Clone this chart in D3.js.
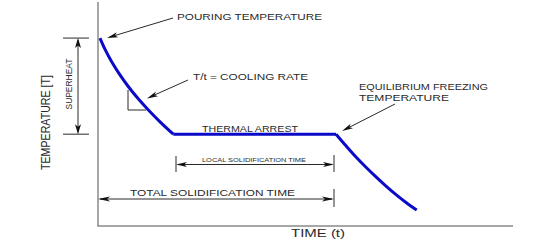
<!DOCTYPE html>
<html>
<head>
<meta charset="utf-8">
<script src="https://cdn.jsdelivr.net/npm/d3@7"></script>
<style>
  body { margin: 0; background: #fff; }
  svg { display: block; }
</style>
</head>
<body>
<svg id="chart" width="535" height="247"></svg>
<script>
// cooling curve, time / temperature in arbitrary units (0-100)
const liquidTime = [0.48, 1.76, 3.33, 5.13, 7.20, 9.54, 12.14, 15.01, 18.14];
const liquidTemp = [83.9, 78.6, 73.2, 67.9, 62.5, 57.1, 51.8, 46.4, 41.0];
const arrestTime = [18.14, 57.35];
const arrestTemp = [41.0, 41.0];
const solidTime = [57.35, 59.76, 62.17, 64.58, 66.99, 69.40, 71.81, 74.22, 76.80];
const solidTemp = [41.0, 35.8, 30.8, 26.2, 21.9, 17.8, 14.0, 10.5, 7.1];

const svg = d3.select("#chart");
const x = d3.scaleLinear().domain([0, 100]).range([98, 513]);
const y = d3.scaleLinear().domain([0, 100]).range([226, 2]);

const ink = "#2a2a2a";
const font = "'Liberation Sans', Arial, sans-serif";

// axes (plain lines, no ticks)
svg.append("line").attr("x1", x(0)).attr("x2", x(0)).attr("y1", y(100)).attr("y2", y(0))
  .attr("stroke", "#8a8a8a").attr("stroke-width", 1.5);
svg.append("line").attr("x1", x(0) - 0.75).attr("x2", x(100)).attr("y1", y(0)).attr("y2", y(0))
  .attr("stroke", "#8a8a8a").attr("stroke-width", 1.5);

// curve
const smooth = d3.line().x(d => x(d[0])).y(d => y(d[1])).curve(d3.curveCatmullRom.alpha(0.5));
const segs = [
  [liquidTime, liquidTemp],
  [arrestTime, arrestTemp],
  [solidTime, solidTemp]
];
segs.forEach(([ts, vs]) => {
  svg.append("path")
    .attr("d", smooth(d3.zip(ts, vs)))
    .attr("fill", "none")
    .attr("stroke", "#0a0ac8")
    .attr("stroke-width", 3)
    .attr("stroke-linejoin", "round");
});

// helpers
function seg(x1, y1, x2, y2, w) {
  svg.append("line").attr("x1", x1).attr("y1", y1).attr("x2", x2).attr("y2", y2)
    .attr("stroke", ink).attr("stroke-width", w || 1);
}
// filled narrow arrowhead, tip at (tx,ty), pointing away from (fx,fy)
function head(tx, ty, fx, fy, len, half) {
  len = len || 10; half = half || 2.6;
  const a = Math.atan2(ty - fy, tx - fx);
  const bx = tx - len * Math.cos(a), by = ty - len * Math.sin(a);
  const nx = -Math.sin(a) * half, ny = Math.cos(a) * half;
  const mx = tx - len * 0.75 * Math.cos(a), my = ty - len * 0.75 * Math.sin(a);
  svg.append("path")
    .attr("d", `M${tx},${ty}L${bx + nx},${by + ny}L${mx},${my}L${bx - nx},${by - ny}Z`)
    .attr("fill", "#111");
}
function label(txt, tx, ty, size, len) {
  return svg.append("text").attr("x", tx).attr("y", ty)
    .attr("font-family", font).attr("font-size", size).attr("fill", ink)
    .attr("textLength", len).attr("lengthAdjust", "spacingAndGlyphs")
    .text(txt);
}

const plateauY = y(arrestTemp[0]);
const startY = y(liquidTemp[0]);

// superheat dimension
seg(63, startY, 89, startY);
seg(63, plateauY, 89, plateauY);
seg(78, startY + 2, 78, plateauY - 2);
head(78, startY, 78, plateauY, 10, 3);
head(78, plateauY, 78, startY, 10, 3);
svg.append("text")
  .attr("transform", "translate(72,84) rotate(-90)")
  .attr("text-anchor", "middle")
  .attr("font-family", "'Liberation Sans Narrow', 'Liberation Sans', sans-serif")
  .attr("font-size", 9).attr("fill", ink)
  .attr("textLength", 51).attr("lengthAdjust", "spacingAndGlyphs")
  .text("SUPERHEAT");

// y label
svg.append("text")
  .attr("transform", "translate(50,122.5) rotate(-90)")
  .attr("text-anchor", "middle")
  .attr("font-family", "'Liberation Sans Narrow', 'Liberation Sans', sans-serif")
  .attr("font-size", 13.5).attr("fill", ink)
  .attr("textLength", 95).attr("lengthAdjust", "spacingAndGlyphs")
  .text("TEMPERATURE [T]");

// x label
label("TIME (t)", 291, 237, 11, 54);

// pouring temperature
seg(173, 18, 110, 37);
head(107, 38, 173, 18, 11, 2.6);
label("POURING TEMPERATURE", 177, 20, 8.5, 145);

// cooling rate
seg(128, 90, 128, 110);
seg(128, 110, 146, 110);
seg(188, 80, 150, 97);
head(147, 98.5, 188, 80, 11, 2.6);
label("T/t = COOLING RATE", 193, 80, 8.5, 115);

// thermal arrest
label("THERMAL ARREST", 202, 132, 9, 96);

// equilibrium freezing temperature
seg(395, 104, 345, 129.5);
head(342, 131, 395, 104, 11, 2.6);
label("EQUILIBRIUM FREEZING", 359, 90, 8.5, 129);
label("TEMPERATURE", 359, 101, 8.5, 90);

// local solidification time
seg(176, 156, 176, 172);
seg(334, 155, 334, 172);
seg(178, 164.5, 332, 164.5);
head(176, 164.5, 334, 164.5, 11, 2.6);
head(334, 164.5, 176, 164.5, 11, 2.6);
label("LOCAL SOLIDIFICATION TIME", 202, 161.7, 6, 104);

// total solidification time
seg(334, 189, 334, 207);
seg(100, 199, 332, 199);
head(x(0), 199, 334, 199, 12, 2.6);
head(334, 199, x(0), 199, 12, 2.6);
label("TOTAL SOLIDIFICATION TIME", 130, 196, 8.5, 165);
</script>
</body>
</html>
